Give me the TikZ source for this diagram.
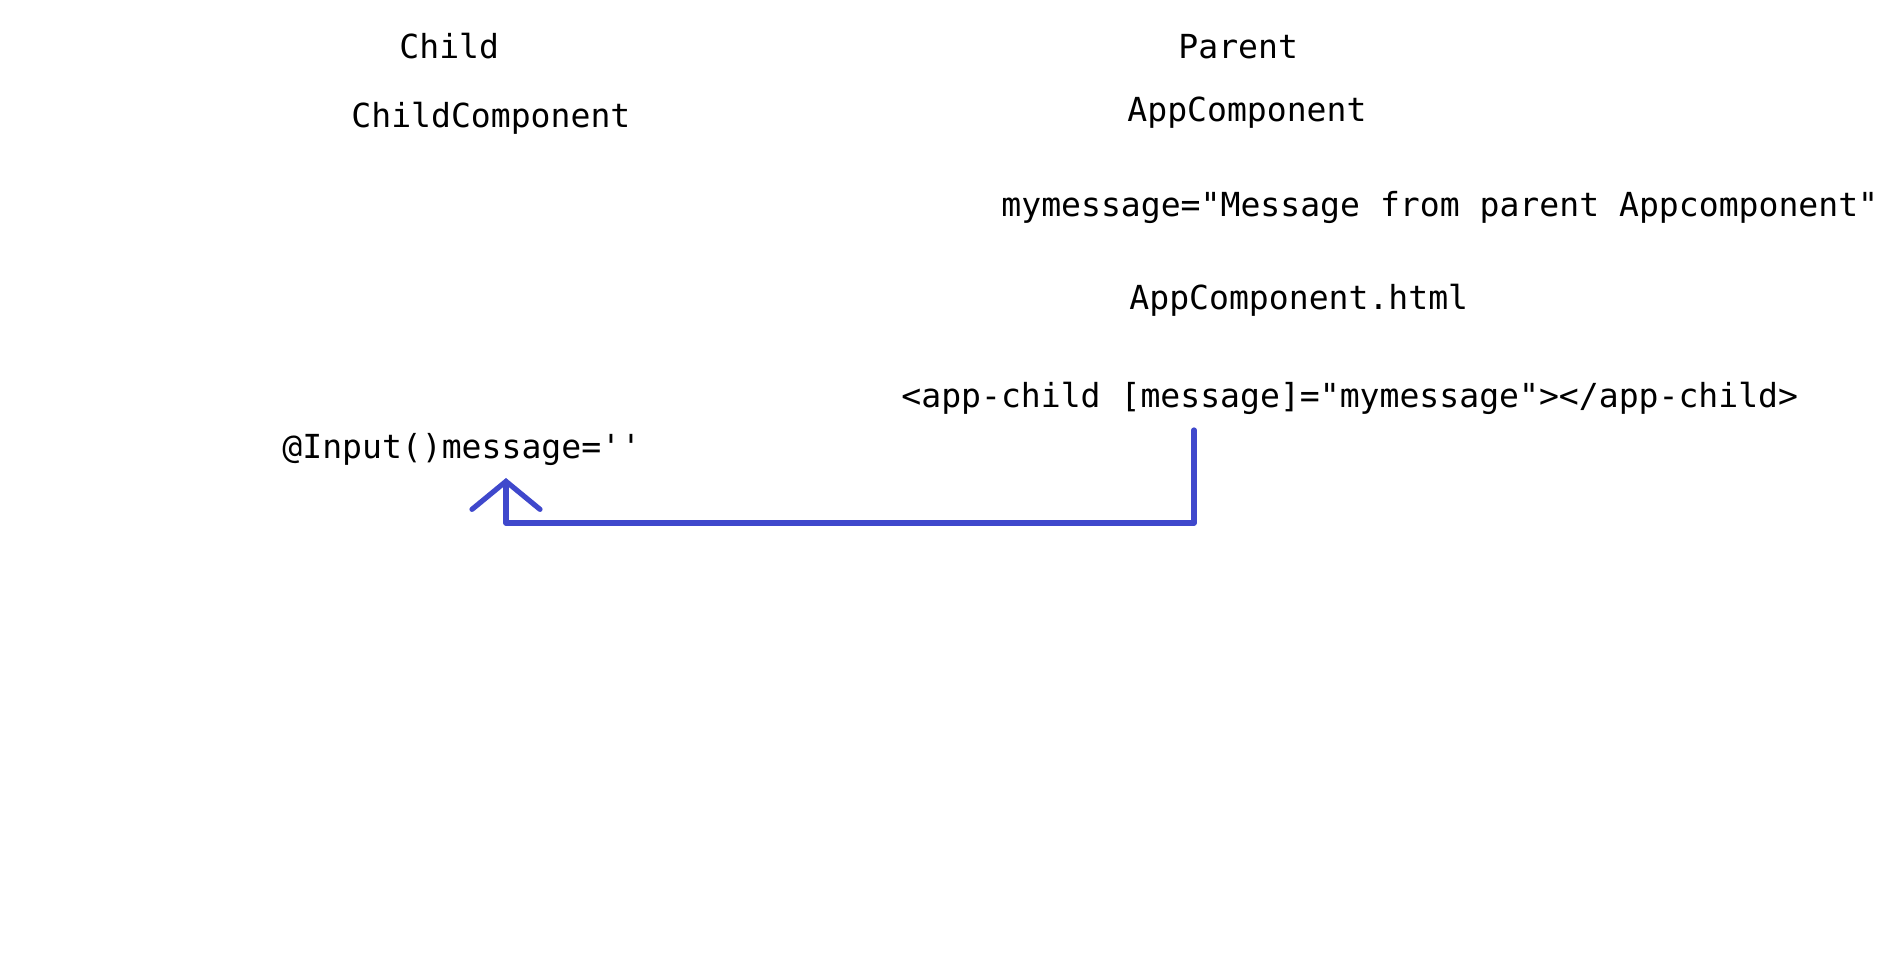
\documentclass[tikz,border=0pt]{standalone}
\usepackage{fontspec}
\setmonofont{DejaVu Sans Mono}
\usetikzlibrary{arrows.meta}

\definecolor{penblue}{RGB}{63,72,204}

\tikzset{
  codetext/.style={anchor=base west, inner sep=0pt,
    font=\ttfamily\fontsize{16.55}{20}\selectfont},
  link/.style={draw=penblue, line width=2.6pt, line join=round, line cap=round,
    -{Straight Barb[length=14pt, width=34pt, line cap=round]}}
}

\begin{document}
\begin{tikzpicture}[x=0.5pt, y=-0.5pt]

        \fill[white] (0,0) rectangle (1901,977);
        \useasboundingbox (0,0) rectangle (1901,977);

        \begin{scope}[every node/.style={codetext}]
          % child side
          \node (child)     at (399,59)   {Child};
          \node (childcomp) at (351,128)  {ChildComponent};
          \node (input)     at (282,459)  {@Input()message=''};

          % parent side
          \node (parent)    at (1178,59)  {Parent};
          \node (appcomp)   at (1127,122) {AppComponent};
          \node (mymsg)     at (1001,217) {mymessage="Message from parent Appcomponent"};
          \node (apphtml)   at (1129,310) {AppComponent.html};
          \node (appchild)  at (901,408)  {<app-child [message]="mymessage"></app-child>};
        \end{scope}

        \coordinate (tail) at (1194,430);
        \coordinate (bend) at (506,523);
        \coordinate (tip)  at (506,478);

        \path[link] (tail) |- (bend) -- (tip);

      \end{tikzpicture}
\end{document}
